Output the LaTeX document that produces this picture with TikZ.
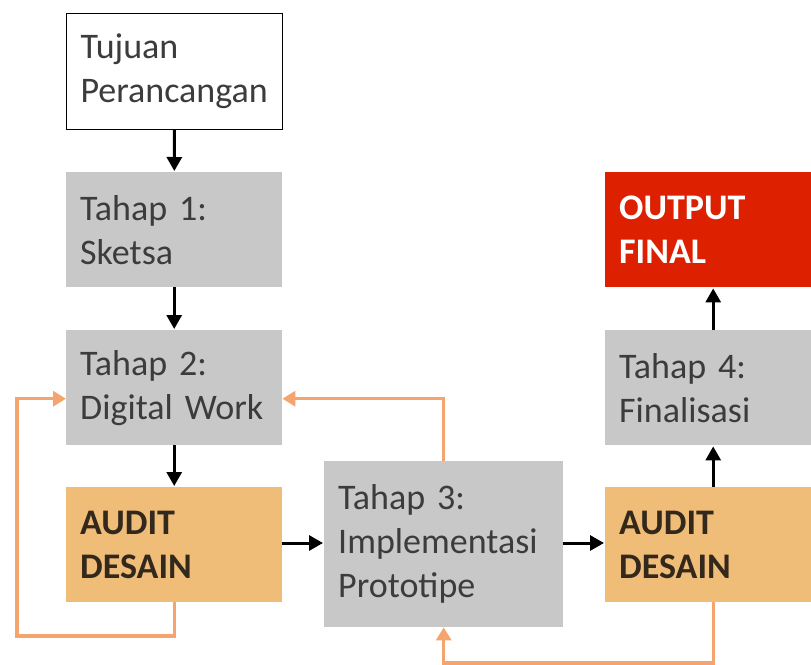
\documentclass[tikz,border=0pt]{standalone}
\usepackage{fontspec}
\setmainfont{Carlito}
\usetikzlibrary{arrows.meta}
\definecolor{boxgray}{HTML}{C8C8C8}
\definecolor{auditfill}{HTML}{F0BD78}
\definecolor{loopline}{HTML}{F4A46C}
\definecolor{finalred}{HTML}{DD2000}
\definecolor{txtgray}{HTML}{3C3C3C}
\definecolor{txtdark}{HTML}{33281C}
\tikzset{
  stagebox/.style={rectangle, anchor=north west, inner xsep=14pt, inner ysep=0pt,
    minimum width=216pt, minimum height=115pt, text width=188pt, align=left,
    font=\fontsize{36}{44}\selectfont, text=txtgray},
  graybox/.style={stagebox, fill=boxgray},
  auditbox/.style={stagebox, fill=auditfill, text=txtdark, font=\fontsize{36}{44}\selectfont\bfseries},
  flow/.style={draw=black, line width=3pt, shorten >=1pt, -{Triangle[length=14pt,width=15pt]}},
  loopback/.style={draw=loopline, line width=3.2pt, -{Triangle[length=13pt,width=15pt]}}
}
\begin{document}
\begin{tikzpicture}[x=1pt,y=-1pt]
\useasboundingbox (0,0) rectangle (811,664);
\clip (0,0) rectangle (811,664);
\fill[white] (0,0) rectangle (811,664);

% left column
\node[stagebox, draw=black, line width=1pt, minimum height=116pt] (goal) at (66,13) {Tujuan\\Perancangan};
\node[graybox] (s1) at (66,172) {Tahap 1:\\Sketsa};
\node[graybox] (s2) at (66,330) {Tahap 2:\\Digital Work};
\node[auditbox] (a1) at (66,487) {AUDIT\\DESAIN};

% middle
\node[graybox, minimum width=239pt, text width=211pt, minimum height=166pt] (s3) at (324,461) {Tahap 3:\\Implementasi\\Prototipe};

% right column
\node[auditbox] (a2) at (605,487) {AUDIT\\DESAIN};
\node[graybox] (s4) at (605,330) {Tahap 4:\\Finalisasi};
\node[stagebox, fill=finalred, text=white, font=\fontsize{36}{44}\selectfont\bfseries] (out) at (605,172) {OUTPUT\\FINAL};

% main flow
\draw[flow] (goal) -- (s1);
\draw[flow] (s1) -- (s2);
\draw[flow] (s2) -- (a1);
\draw[flow] (a1.east |- 0,543) -- (s3.west |- 0,543);
\draw[flow] (s3.east |- 0,543) -- (a2.west |- 0,543);
\draw[flow] (a2) -- (s4);
\draw[flow] (s4) -- (out);

% feedback loops
\coordinate (loopA) at (17,636);
\coordinate (loopC) at (600,663);
\draw[loopback] (a1.south) |- (loopA) |- ([yshift=-11pt]s2.west);
\draw[loopback] (s3.north) |- ([yshift=-11pt]s2.east);
\draw[loopback] (a2.south) |- (loopC) -| (s3.south);
\end{tikzpicture}
\end{document}
